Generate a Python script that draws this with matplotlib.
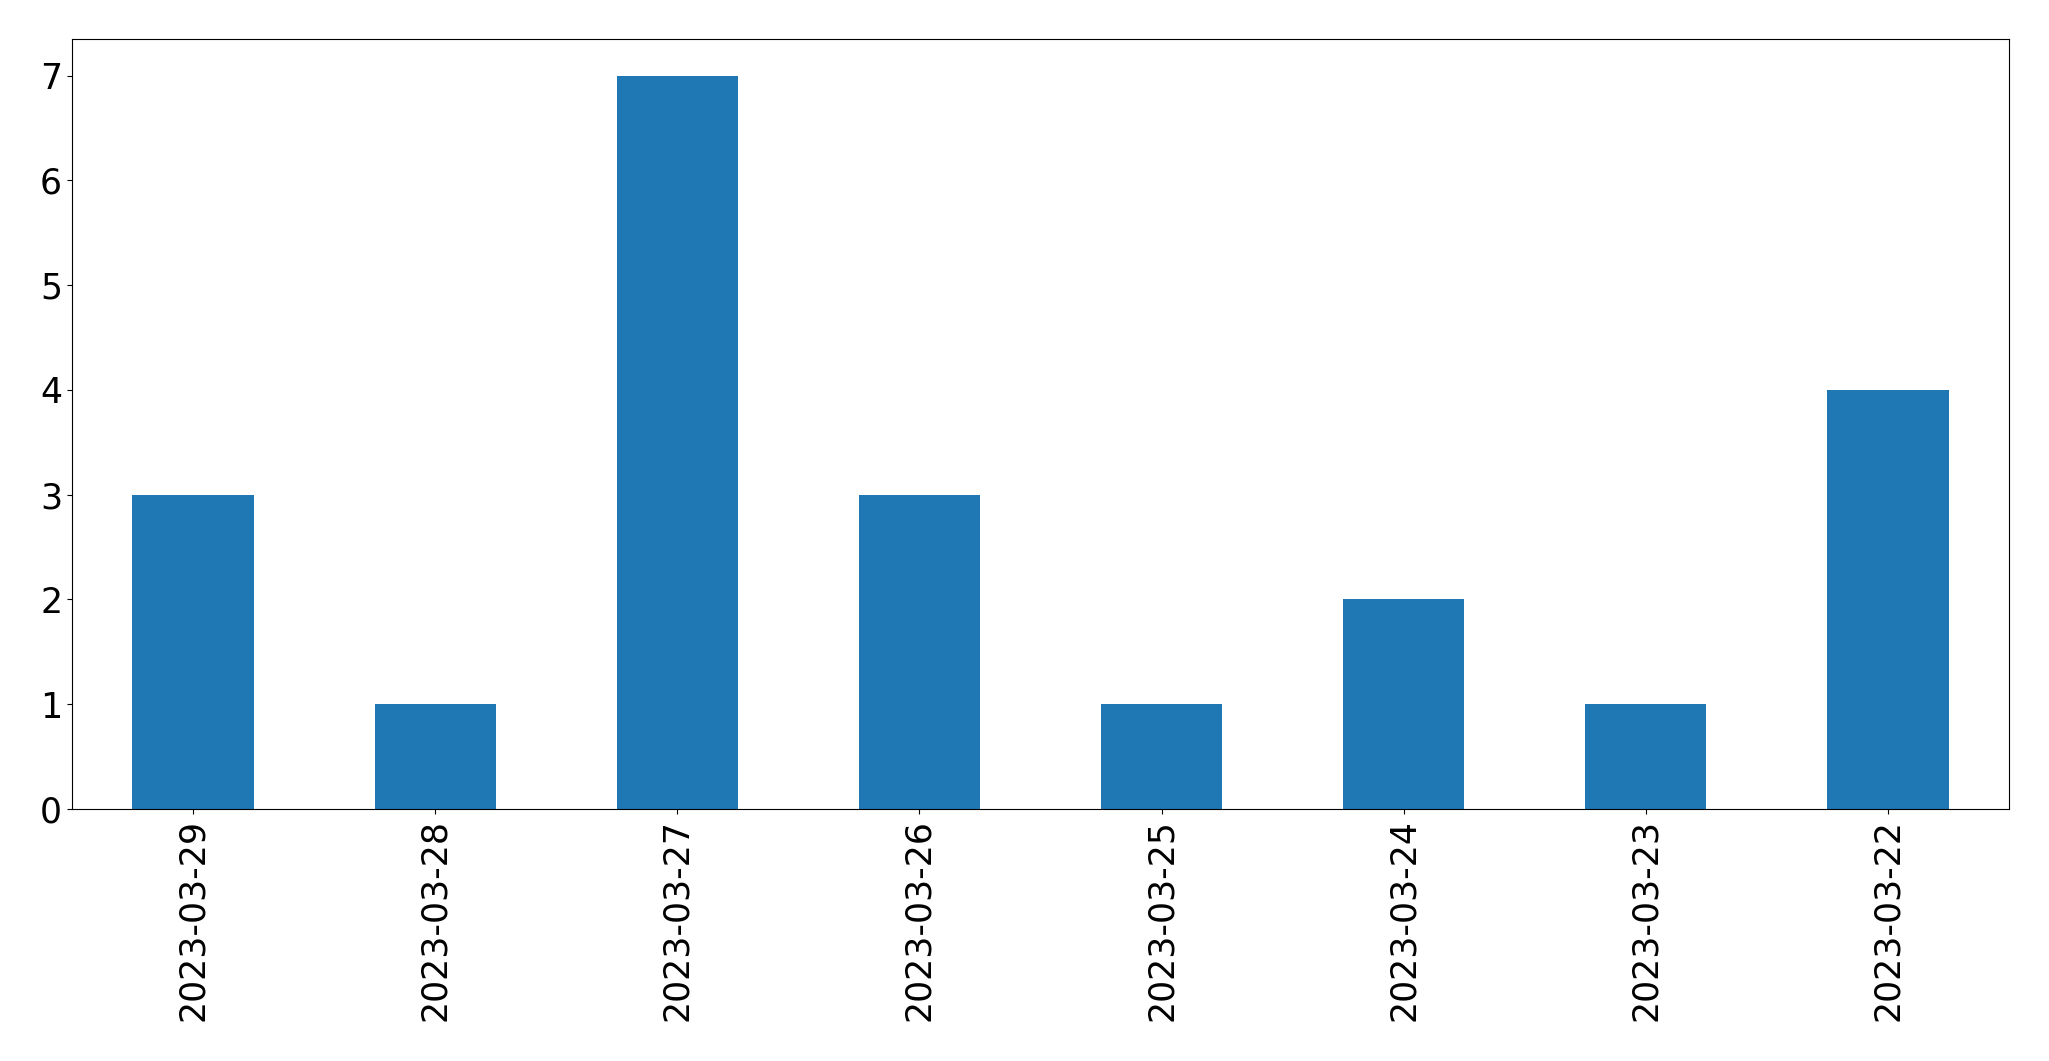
import matplotlib
matplotlib.use("Agg")
import matplotlib.pyplot as plt
import pandas as pd

# Daily counts (newest first, as in the original)
dates = ["2023-03-29", "2023-03-28", "2023-03-27", "2023-03-26",
         "2023-03-25", "2023-03-24", "2023-03-23", "2023-03-22"]
counts = [3, 1, 7, 3, 1, 2, 1, 4]

s = pd.Series(counts, index=dates)

fig, ax = plt.subplots(figsize=(20.49, 10.61), dpi=100)
s.plot(kind="bar", ax=ax, color="#1f77b4")
ax.tick_params(axis="both", labelsize=25)
fig.subplots_adjust(left=0.0351, right=0.9805, bottom=0.2375, top=0.9632)

fig.savefig("out.png", dpi=100)
